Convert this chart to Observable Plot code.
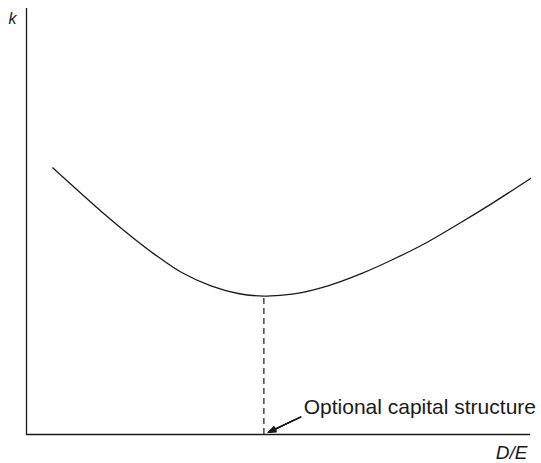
<!DOCTYPE html>
<html>
<head>
<meta charset="utf-8">
<script src="https://cdn.jsdelivr.net/npm/d3@7"></script>
<script src="https://cdn.jsdelivr.net/npm/@observablehq/plot@0.6"></script>
<style>
  html, body { margin: 0; padding: 0; background: #fff; }
  #chart svg { display: block; }
</style>
</head>
<body>
<div id="chart"></div>
<script>
// Debt/equity ratio (arbitrary units) and cost of capital k (arbitrary units)
const deRatio = [0.52, 1.49, 2.08, 2.53, 3.07, 3.66, 4.20, 4.71, 5.31, 5.98, 6.63, 7.29, 7.96, 8.61, 9.27, 10.0];
const costOfCapital = [6.26, 5.23, 4.65, 4.24, 3.81, 3.49, 3.31, 3.25, 3.30, 3.49, 3.77, 4.12, 4.52, 4.97, 5.45, 6.01];
const optimumDE = 4.71;
const optimumK = 3.25;
const annotationText = "Optional capital structure";
const annotationAt = [5.50, 0.49];
const arrowFrom = [5.44, 0.41];
const arrowTo = [4.80, 0.05];
const yLabel = "k";
const xLabel = "D/E";

const curve = deRatio.map((d, i) => ({de: d, k: costOfCapital[i]}));
const arrowData = [{x1: arrowFrom[0], y1: arrowFrom[1], x2: arrowTo[0], y2: arrowTo[1]}];
const ink = "#1a1a1a";
const font = "Arial, 'Liberation Sans', Helvetica, sans-serif";

// several head angles overlaid so the arrowhead reads as a filled wedge
const arrowMarks = [12, 22, 32, 42].map(a =>
  Plot.arrow(arrowData, {x1: "x1", y1: "y1", x2: "x2", y2: "y2",
    stroke: ink, strokeWidth: 1.3, headLength: 9, headAngle: a}));

const chart = Plot.plot({
  width: 541,
  height: 463,
  marginLeft: 26,
  marginRight: 11,
  marginTop: 8,
  marginBottom: 29,
  x: {domain: [0, 10], axis: null},
  y: {domain: [0, 10], axis: null},
  style: {fontFamily: font, background: "#fff", color: ink},
  marks: [
    Plot.ruleX([0], {y1: 0, y2: 10, stroke: ink, strokeWidth: 1.3}),
    Plot.ruleY([0], {x1: 0, x2: 10, stroke: ink, strokeWidth: 1.3}),
    Plot.line(curve, {x: "de", y: "k", curve: "catmull-rom", stroke: ink, strokeWidth: 1.3}),
    Plot.ruleX([optimumDE], {y1: 0, y2: optimumK, stroke: ink, strokeWidth: 1.2, strokeDasharray: "6,4"}),
    ...arrowMarks,
    Plot.text([annotationText], {x: annotationAt[0], y: annotationAt[1], text: d => d,
      textAnchor: "start", lineAnchor: "bottom", fontSize: 21, fill: ink}),
    Plot.text([yLabel], {frameAnchor: "top-left", text: d => d, dx: -18, dy: 15,
      textAnchor: "start", lineAnchor: "bottom", fontSize: 16, fontStyle: "italic", fill: ink}),
    Plot.text([xLabel], {frameAnchor: "bottom-right", text: d => d, dx: -3, dy: 24,
      textAnchor: "end", lineAnchor: "bottom", fontSize: 19, fontStyle: "italic", fill: ink})
  ]
});
document.getElementById("chart").append(chart);
</script>
</body>
</html>
